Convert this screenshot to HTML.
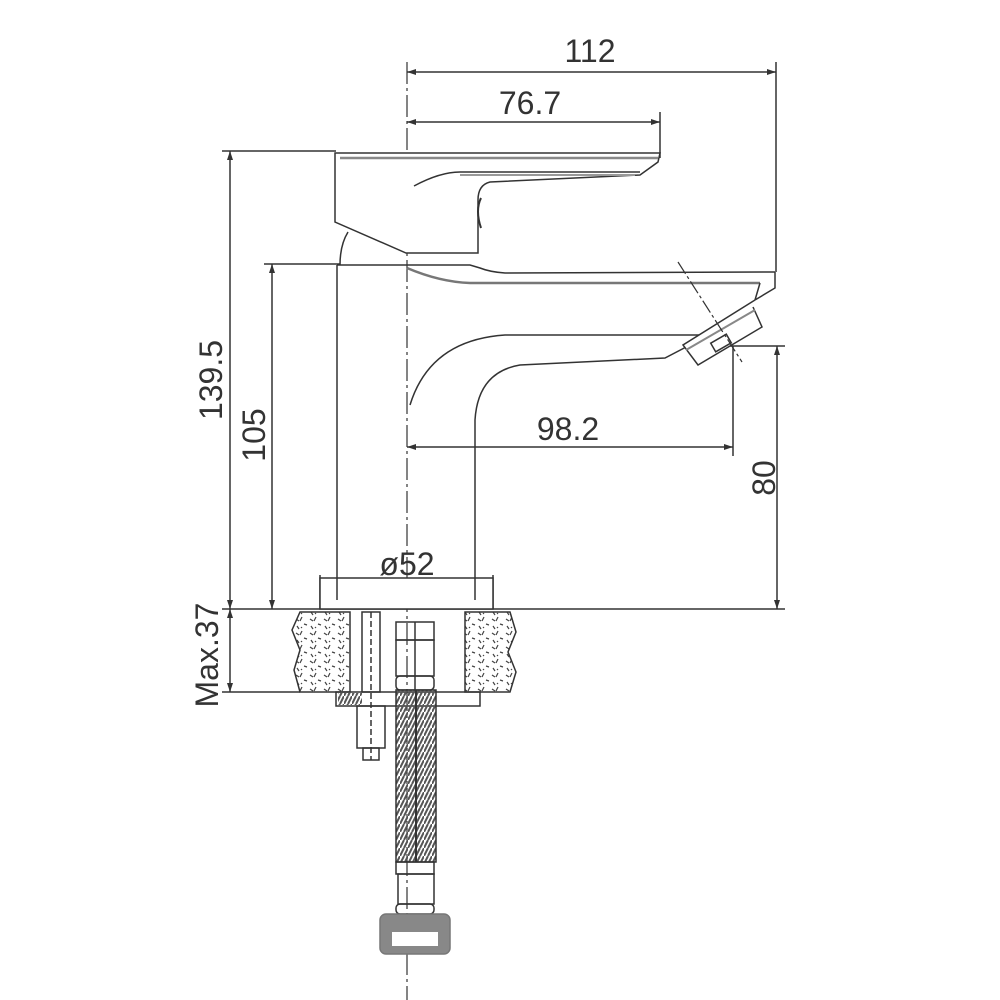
<!DOCTYPE html>
<html><head><meta charset="utf-8"><style>
html,body{margin:0;padding:0;background:#fff;}
svg{display:block;}
text{font-family:"Liberation Sans",sans-serif;font-size:32px;fill:#333;}
</style></head><body>
<svg width="1000" height="1000" viewBox="0 0 1000 1000" xmlns="http://www.w3.org/2000/svg">
<defs>
<marker id="a" markerWidth="10" markerHeight="10" refX="9" refY="3" orient="auto-start-reverse" markerUnits="userSpaceOnUse"><path d="M0,0 L9,3 L0,6 z" fill="#333"/></marker>
<pattern id="g" width="14" height="14" patternUnits="userSpaceOnUse"><path d="M2,3 l3,2 M8,1 l-2,4 M10,8 l3,1 M3,10 l2,3 M7,11 l1,1" stroke="#444" stroke-width="1.2"/></pattern>
<pattern id="h" width="8" height="8" patternUnits="userSpaceOnUse"><path d="M0,8 L4,0 M4,8 L8,0" stroke="#555" stroke-width="2"/></pattern>
</defs>
<g stroke="#333" stroke-width="1.5" fill="none">
<line x1="407" y1="62" x2="407" y2="1000" stroke-dasharray="22,4,3,4" stroke-width="1.2"/>
<line x1="776" y1="62" x2="776" y2="272"/>
<line x1="407" y1="72" x2="776" y2="72" marker-start="url(#a)" marker-end="url(#a)"/>
<line x1="660" y1="112" x2="660" y2="158"/>
<line x1="407" y1="122" x2="660" y2="122" marker-start="url(#a)" marker-end="url(#a)"/>
<line x1="222" y1="151" x2="336" y2="151"/>
<line x1="230" y1="151" x2="230" y2="609" marker-start="url(#a)" marker-end="url(#a)"/>
<line x1="264" y1="264" x2="340" y2="264"/>
<line x1="272" y1="264" x2="272" y2="609" marker-start="url(#a)" marker-end="url(#a)"/>
<line x1="222" y1="692" x2="300" y2="692"/>
<line x1="230" y1="609" x2="230" y2="692" marker-start="url(#a)" marker-end="url(#a)"/>
<line x1="222" y1="609" x2="785" y2="609"/>
<line x1="730" y1="346" x2="785" y2="346"/>
<line x1="777" y1="346" x2="777" y2="609" marker-start="url(#a)" marker-end="url(#a)"/>
<line x1="733" y1="346" x2="733" y2="456"/>
<line x1="407" y1="447" x2="733" y2="447" marker-start="url(#a)" marker-end="url(#a)"/>
<line x1="320" y1="575" x2="320" y2="609"/>
<line x1="493" y1="575" x2="493" y2="609"/>
<line x1="320" y1="582" x2="493" y2="582" marker-start="url(#a)" marker-end="url(#a)"/>
<path d="M335,153 L660,153 L658,162 L640,175 L490,182 Q478,185 478,200 L478,253 L406,253 L335,222 Z" fill="#fff"/>
<path d="M658,158 L340,158" stroke-width="2.5" stroke="#888"/>
<path d="M414,186 Q440,172 460,172 L640,172" />
<path d="M460,175 L635,175" stroke="#999" stroke-width="2"/>
<path d="M481,198 Q475,210 481,228" stroke-width="2"/>
<path d="M348,232 Q340,245 340,265"/>
<path d="M337,265 L337,578"/>
<path d="M475,578 L475,420 Q478,372 520,365 L665,358 L690,345"/>
<path d="M410,405 Q430,340 505,335 L700,335"/>
<path d="M337,265 L470,265 L480,268 Q490,272 505,273 L775,272"/>
<path d="M407,268 Q440,282 470,283 L760,283" stroke-width="2.5" stroke="#777"/>
<path d="M775,272 L775,288 L755,300 M760,283 L755,300"/>
<path d="M755,300 L683,345 L698,365 L762,327 L753,307" fill="#fff"/>
<path d="M686,350 L755,310" stroke="#888" stroke-width="2"/>
<rect x="712" y="338" width="18" height="10" transform="rotate(-30 721 343)"/>
<line x1="678" y1="262" x2="742" y2="362" stroke-dasharray="14,3,3,3" stroke-width="1.2"/>
<rect x="320" y="578" width="173" height="31" fill="#fff"/>
<line x1="337" y1="578" x2="337" y2="600"/><line x1="475" y1="578" x2="475" y2="600"/>
<path d="M300,612 L350,612 L350,692 L300,692 L294,670 L300,650 L292,630 Z" fill="url(#g)"/>
<path d="M465,612 L510,612 L516,632 L508,652 L516,672 L510,692 L465,692 Z" fill="url(#g)"/>
<rect x="336" y="692" width="144" height="14"/>
<rect x="338" y="693" width="24" height="12" fill="url(#h)" stroke="none"/>
<rect x="362" y="612" width="18" height="80"/>
<rect x="357" y="706" width="28" height="42"/>
<rect x="363" y="748" width="16" height="12"/>
<line x1="371" y1="612" x2="371" y2="760" stroke-dasharray="6,3"/>
<rect x="396" y="622" width="38" height="18"/>
<rect x="396" y="640" width="38" height="36"/>
<rect x="396" y="676" width="38" height="14" rx="4"/>
<line x1="415" y1="622" x2="415" y2="690"/>
<rect x="396" y="690" width="40" height="172" fill="url(#h)"/>
<line x1="416" y1="690" x2="416" y2="862" stroke-width="2"/>
<rect x="396" y="862" width="38" height="12"/>
<rect x="398" y="874" width="36" height="30"/>
<rect x="396" y="904" width="38" height="10" rx="4"/>
<rect x="380" y="914" width="70" height="40" rx="6" fill="#888" stroke="#777"/>
<rect x="392" y="932" width="46" height="14" fill="#fff" stroke="none"/>
</g>
<g>
<text x="590" y="62" text-anchor="middle">112</text>
<text x="530" y="114" text-anchor="middle">76.7</text>
<text x="568" y="440" text-anchor="middle">98.2</text>
<text x="407" y="575" text-anchor="middle">ø52</text>
<text transform="translate(222,380) rotate(-90)" text-anchor="middle">139.5</text>
<text transform="translate(265,435) rotate(-90)" text-anchor="middle">105</text>
<text transform="translate(218,655) rotate(-90)" text-anchor="middle">Max.37</text>
<text transform="translate(775,478) rotate(-90)" text-anchor="middle">80</text>
</g>
</svg>
</body></html>
